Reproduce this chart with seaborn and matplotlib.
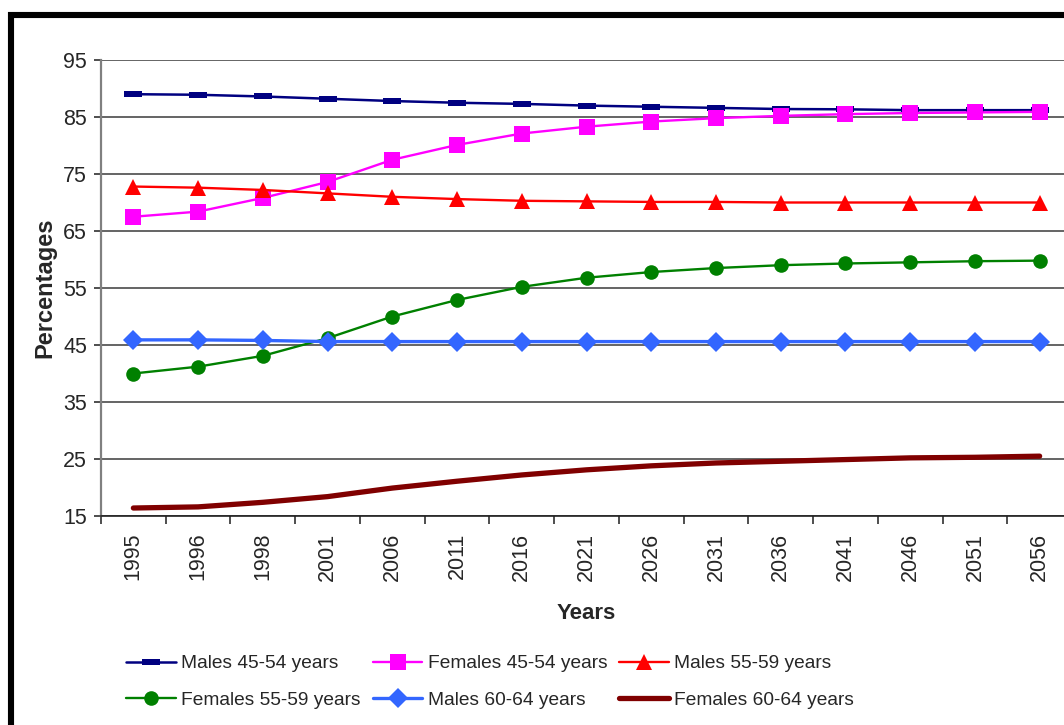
import matplotlib
matplotlib.use("Agg")
import matplotlib.pyplot as plt
import matplotlib.patches as mpatches
import numpy as np
import pandas as pd
import seaborn as sns

years = ["1995", "1996", "1998", "2001", "2006", "2011", "2016", "2021",
         "2026", "2031", "2036", "2041", "2046", "2051", "2056"]

males_45_54 = [89.0, 88.9, 88.6, 88.2, 87.8, 87.5, 87.3, 87.0,
               86.8, 86.6, 86.4, 86.35, 86.2, 86.2, 86.2]
females_45_54 = [67.5, 68.4, 70.8, 73.6, 77.5, 80.1, 82.1, 83.3,
                 84.2, 84.8, 85.2, 85.5, 85.7, 85.8, 85.9]
males_55_59 = [72.8, 72.6, 72.2, 71.6, 71.0, 70.6, 70.3, 70.2,
               70.1, 70.1, 70.0, 70.0, 70.0, 70.0, 70.0]
females_55_59 = [40.0, 41.2, 43.1, 46.2, 50.0, 52.9, 55.2, 56.8,
                 57.8, 58.5, 59.0, 59.3, 59.5, 59.7, 59.8]
males_60_64 = [45.9, 45.9, 45.8, 45.6, 45.6, 45.6, 45.6, 45.6,
               45.6, 45.6, 45.6, 45.6, 45.6, 45.6, 45.6]
females_60_64 = [16.4, 16.6, 17.4, 18.4, 19.9, 21.1, 22.2, 23.1,
                 23.8, 24.3, 24.6, 24.9, 25.2, 25.3, 25.5]

series_names = ["Males 45-54 years", "Females 45-54 years", "Males 55-59 years",
                "Females 55-59 years", "Males 60-64 years", "Females 60-64 years"]
series_values = [males_45_54, females_45_54, males_55_59,
                 females_55_59, males_60_64, females_60_64]

y_ticks = [15, 25, 35, 45, 55, 65, 75, 85, 95]

sns.set_theme(style="white")
plt.rcParams["font.family"] = ["Liberation Sans", "DejaVu Sans"]

# wide flat bar used as the point marker for the first series
bar_marker = [(-1.3, -0.4), (1.3, -0.4), (1.3, 0.4), (-1.3, 0.4), (-1.3, -0.4)]

styles = [
    dict(color="#000080", marker=bar_marker, markersize=13, lw=1.8),
    dict(color="#FF00FF", marker="s", markersize=11, lw=1.7),
    dict(color="#FF0000", marker="^", markersize=12, lw=1.7),
    dict(color="#008000", marker="o", markersize=10.5, lw=1.7),
    dict(color="#3366FF", marker="D", markersize=10.5, lw=2.4),
    dict(color="#800000", marker=None, markersize=0, lw=3.8),
]

W, H = 1064, 725
fig = plt.figure(figsize=(W / 100, H / 100), dpi=100)
ax = fig.add_axes([101 / W, 1 - 516 / H, (1072 - 101) / W, (516 - 60) / H])

for name, vals, st in zip(series_names, series_values, styles):
    df = pd.DataFrame({"Year": years, "Value": vals})
    sns.lineplot(data=df, x="Year", y="Value", ax=ax, sort=False,
                 color=st["color"], linewidth=st["lw"],
                 marker=st["marker"], markersize=st["markersize"],
                 markeredgewidth=0, markeredgecolor=st["color"], label=name)

ax.set_xlim(-0.5, len(years) - 0.5)
ax.set_ylim(15, 95)
ax.set_yticks(y_ticks)
ax.set_yticklabels([str(t) for t in y_ticks], fontsize=15.5)
ax.set_xticks(range(len(years)))
ax.set_xticklabels(years, rotation=90, fontsize=15.5)
ax.set_xticks(np.arange(-0.5, len(years)), minor=True)
ax.tick_params(axis="x", which="major", length=0, pad=12)
ax.tick_params(axis="x", which="minor", direction="out", length=6,
               width=1.2, color="#303030", bottom=True)
ax.tick_params(axis="y", direction="out", length=5, width=1.2,
               color="#303030", pad=5, left=True)

ax.grid(axis="y", color="#3a3a3a", linewidth=1.1)
ax.grid(axis="x", visible=False)
ax.set_axisbelow(True)
for side in ("top", "right"):
    ax.spines[side].set_visible(False)
ax.spines["left"].set_color("#808080")
ax.spines["left"].set_linewidth(1.6)
ax.spines["bottom"].set_color("#202020")
ax.spines["bottom"].set_linewidth(1.2)

ax.set_xlabel("Years", fontsize=16, fontweight="bold", labelpad=16)
ax.set_ylabel("Percentages", fontsize=17, fontweight="bold", labelpad=5)

# legend laid out in three columns, filled row by row
handles, labels = ax.get_legend_handles_labels()
ax.get_legend().remove()
order = [0, 3, 1, 4, 2, 5]
fig.legend([handles[i] for i in order], [labels[i] for i in order],
           ncol=3, loc="upper left", bbox_to_anchor=(126 / W, 1 - 655 / H),
           frameon=False, fontsize=13.8, handlelength=2.6, handletextpad=0.28,
           columnspacing=0.62, labelspacing=0.98, borderpad=0, borderaxespad=0)

# heavy black frame around the chart
frame = mpatches.Rectangle((11 / W, -0.2), 1.3, 1.2 - 15 / H,
                           transform=fig.transFigure, fill=False,
                           edgecolor="black", linewidth=4.4, zorder=10)
frame.set_clip_on(False)
fig.patches.append(frame)

fig.savefig("out.png", dpi=100)
